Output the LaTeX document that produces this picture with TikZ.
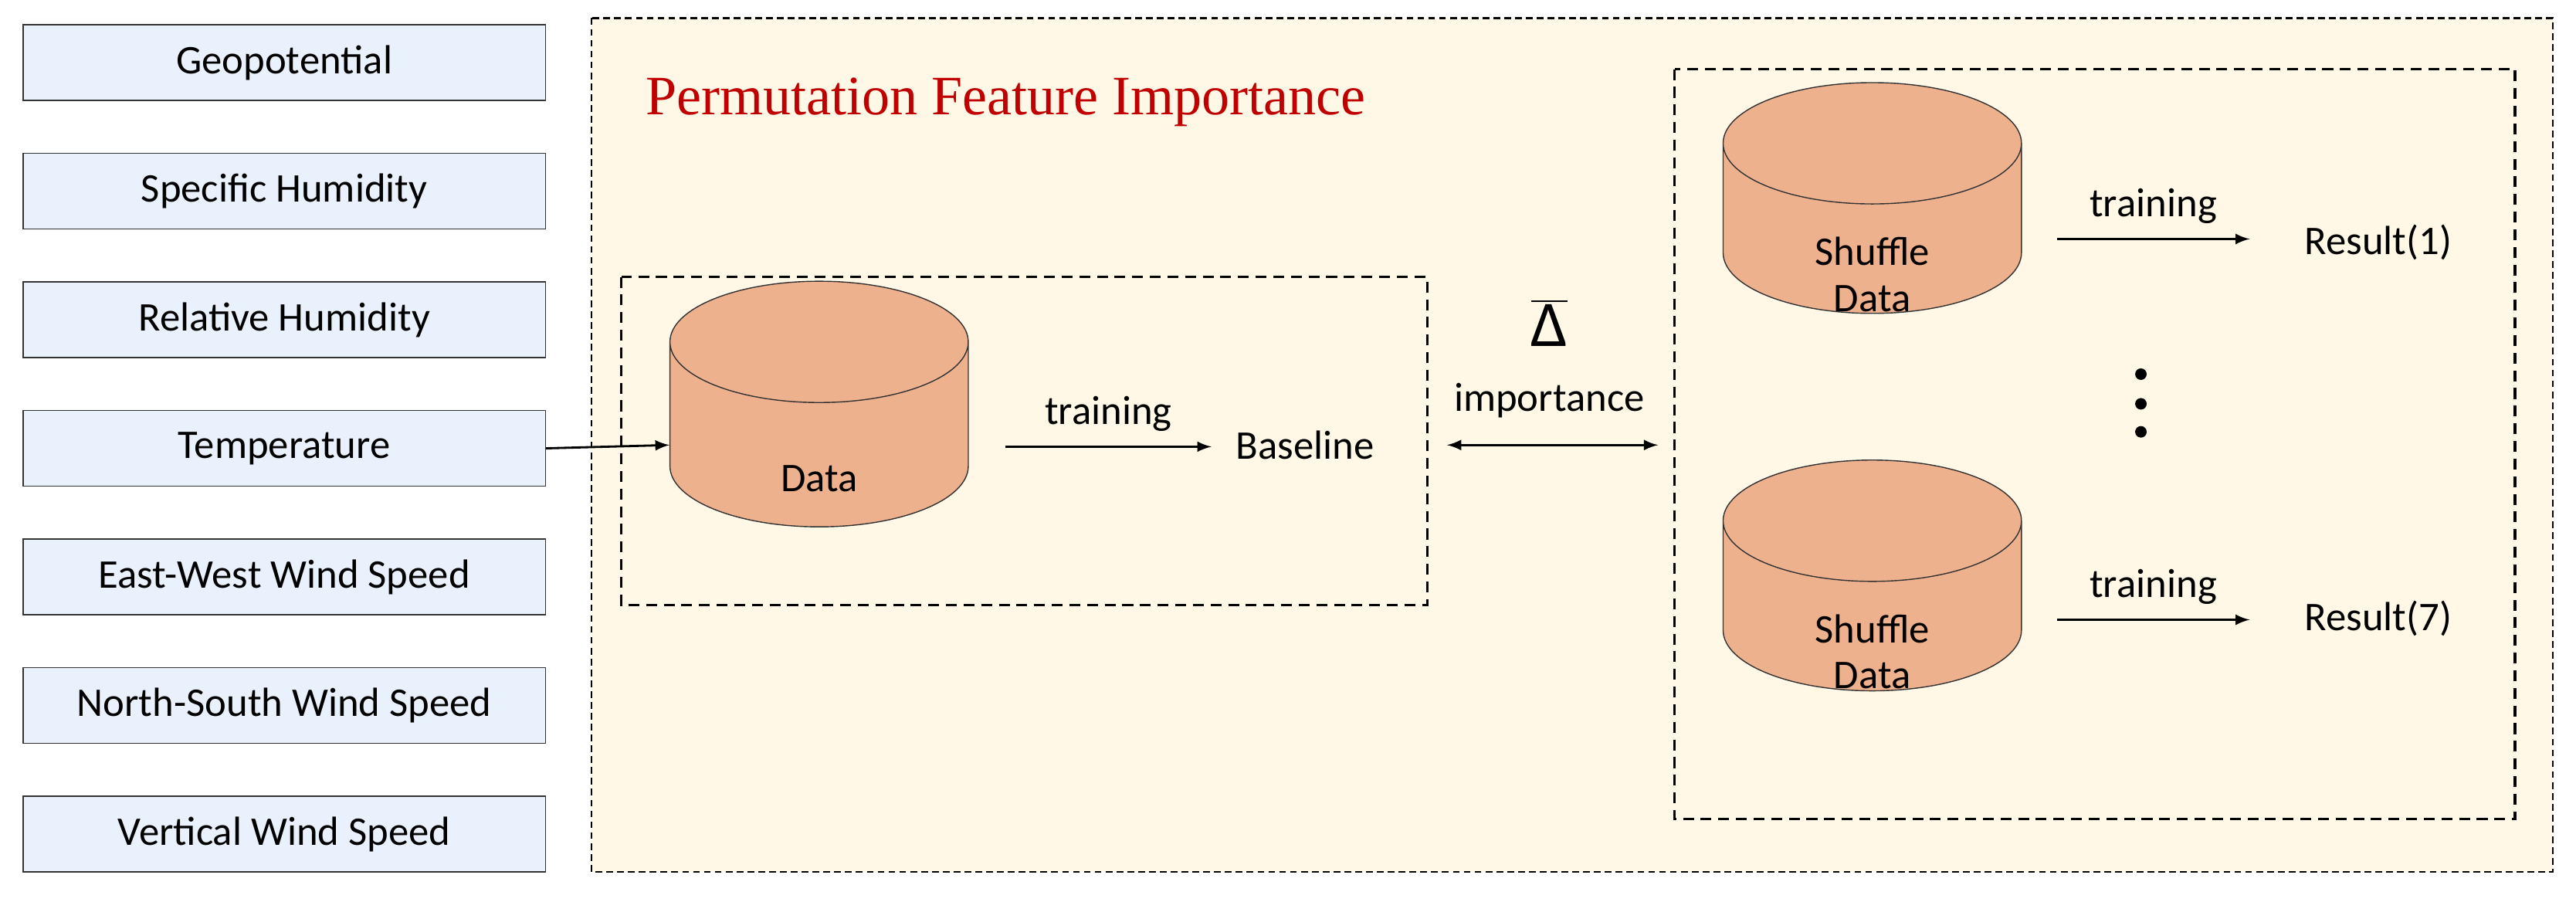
\documentclass[tikz,border=0pt]{standalone}
\usepackage{fontspec}
\setmainfont{Carlito}
\newfontfamily\titlefont{Liberation Serif}
\usetikzlibrary{shapes.geometric}
\definecolor{boxblue}{HTML}{E8F1FC}
\definecolor{cream}{HTML}{FFF8E6}
\definecolor{salmon}{HTML}{EEB18E}
\definecolor{titlered}{HTML}{C00000}
\tikzset{
  feature/.style={draw=black!80, fill=boxblue, minimum width=317*0.02134cm, minimum height=46*0.02134cm, font=\fontsize{15}{17}\selectfont},
  db/.style={cylinder, shape border rotate=90, draw=black!80, cylinder uses custom fill, cylinder body fill=salmon, cylinder end fill=salmon, aspect=0.9, minimum width=181*0.02134cm, text width=43pt},
  lbl/.style={font=\fontsize{15}{17}\selectfont},
  dashbox/.style={draw, dash pattern=on 4pt off 2.5pt, line width=0.9pt},
  flow/.style={->, line width=0.8pt}
}
\begin{document}
\begin{tikzpicture}[x=0.02134cm, y=-0.02134cm, >=latex]
	\useasboundingbox (0,0) rectangle (1563,547);
	\draw [dash pattern=on 2.5pt off 1.5pt, line width=0.6pt, fill=cream] (359,11) rectangle (1549,529);
	\node [text=titlered, anchor=west, font=\titlefont\fontsize{20.5}{22}\selectfont] (title) at (386,62) {Permutation Feature Importance};
	% features
	\foreach \name/\txt [count=\i] in {geo/Geopotential, sh/Specific Humidity, rh/Relative Humidity, temp/Temperature, ew/East-West Wind Speed, ns/North-South Wind Speed, vw/Vertical Wind Speed}
		\node [feature] (\name) at (172.5,{38+78*(\i-1)}) {\txt};
	% baseline part
	\draw [dashbox] (377,168) rectangle (866,367);
	\node [db, minimum height=149*0.02134cm, label={[lbl, yshift=-12.5pt]center:Data}] (data) at (497,270) {};
	\node [lbl] (base) at (792,270) {Baseline};
	\draw [flow] (temp.east) -- (data.west);
	\draw [flow] (610,271) -- node [lbl, above=2pt] {training} (735,271);
	% importance
	\node [font=\fontsize{24}{26}\selectfont] (delta) at (940,196) {$\overline{\mbox{Δ}}$};
	\node [lbl] (imp) at (940,243) {importance};
	\draw [flow, <->] (878,270) -- (1006,270);
	% shuffle part
	\draw [dashbox] (1016,42) rectangle (1526,497);
	\node [db, minimum height=140*0.02134cm, label={[lbl, align=center, yshift=-13pt]center:Shuffle\\Data}] (sh1) at (1136,145) {};
	\node [db, minimum height=140*0.02134cm, label={[lbl, align=center, yshift=-13pt]center:Shuffle\\Data}] (sh7) at (1136,374) {};
	\node [lbl] (res1) at (1443,147) {Result(1)};
	\node [lbl] (res7) at (1443,375) {Result(7)};
	\draw [flow] (1248,145) -- node [lbl, above=2pt] {training} (1365,145);
	\draw [flow] (1248,376) -- node [lbl, above=2pt] {training} (1365,376);
	\foreach \y in {227,245,262}
		\fill (1299,\y) circle (3.5);
\end{tikzpicture}
\end{document}
